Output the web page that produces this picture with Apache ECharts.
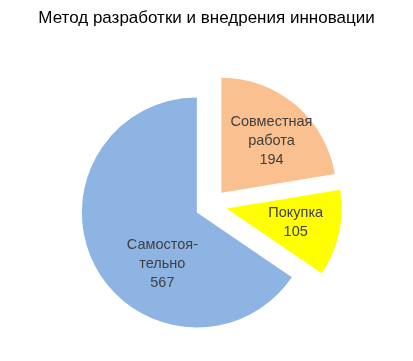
<!DOCTYPE html>
<html><head><meta charset="utf-8">
<script src="https://cdn.jsdelivr.net/npm/echarts@6/dist/echarts.min.js"></script>
<style>html,body{margin:0;padding:0;background:#fff}#c{width:413px;height:361px}</style>
</head><body><div id="c"></div>
<script>
var categories = ['Совместная\nработа', 'Покупка', 'Самостоя-\nтельно'];
var values = [194, 105, 567];
var colors = ['#FAC090', '#FFFF00', '#8EB4E3'];
var labelShift = [[11, -6], [10, 1], [19, 23]];

var chart = echarts.init(document.getElementById('c'));
chart.setOption({
  animation: false,
  title: {
    text: 'Метод разработки и внедрения инновации',
    left: 'center', top: 5,
    textStyle: {fontFamily: 'Liberation Sans', fontSize: 17, fontWeight: 'normal', color: '#000'}
  },
  series: [{
    type: 'pie',
    center: [211, 205],
    radius: [0, 115],
    startAngle: 90,
    clockwise: true,
    selectedMode: 'multiple',
    selectedOffset: 16,
    avoidLabelOverlap: false,
    emphasis: {disabled: true},
    label: {
      show: true, position: 'inside',
      fontFamily: 'Liberation Sans', fontSize: 14.5, color: '#404040',
      lineHeight: 19, align: 'center',
      formatter: function(p){ return p.name + '\n' + p.value; }
    },
    labelLayout: function(p){
      return {dx: labelShift[p.dataIndex][0], dy: labelShift[p.dataIndex][1]};
    },
    itemStyle: {borderWidth: 0},
    data: categories.map(function(n, i){
      return {name: n, value: values[i], selected: true, itemStyle: {color: colors[i]}};
    })
  }]
});
</script></body></html>
